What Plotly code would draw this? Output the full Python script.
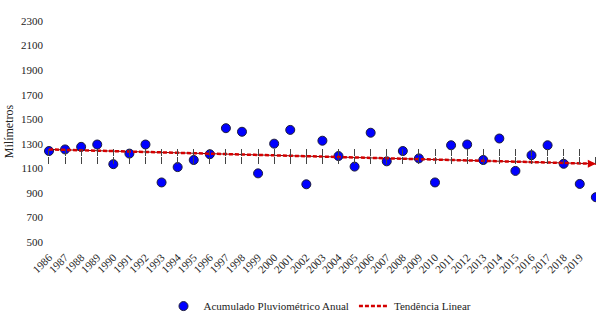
import plotly.graph_objects as go

years = list(range(1986, 2021))
rain_mm = [1241, 1254, 1275, 1294, 1134, 1220, 1294, 985, 1110, 1168,
           1215, 1427, 1398, 1059, 1301, 1413, 970, 1325, 1200, 1114,
           1390, 1157, 1241, 1181, 985, 1288, 1294, 1168, 1343, 1079,
           1207, 1288, 1137, 973, 865]
trend_years = [1986, 2020]
trend_mm = [1254, 1137]
y_ticks = [500, 700, 900, 1100, 1300, 1500, 1700, 1900, 2100, 2300]
y_title = "Milímetros"
name_points = "Acumulado Pluviométrico Anual"
name_trend = "Tendência Linear"

FONT = "Times New Roman, Liberation Serif, serif"
TXT = "#222"
y_min, y_max = 500, 2300
cross_val = 1198
x_range = [1985.69, 2020.01]

fig = go.Figure()

# thin dark underline for the trend (shadow look)
fig.add_trace(go.Scatter(
    x=trend_years, y=trend_mm, mode="lines",
    line=dict(color="#7a0000", width=1), showlegend=False, hoverinfo="skip"))

fig.add_trace(go.Scatter(
    x=years, y=rain_mm, mode="markers", name=name_points,
    marker=dict(color="#0000ff", size=9, line=dict(color="#1c1c3c", width=1))))

fig.add_trace(go.Scatter(
    x=trend_years, y=trend_mm, mode="lines", name=name_trend,
    line=dict(color="#d40000", width=2.5, dash="4px,2px")))

# helper traces for tick-only crossing axes
fig.add_trace(go.Scatter(x=[], y=[], xaxis="x2", showlegend=False))
fig.add_trace(go.Scatter(x=[], y=[], xaxis="x3", showlegend=False))

pos = (cross_val - y_min) / (y_max - y_min)

fig.update_layout(
    width=596, height=321,
    margin=dict(l=44, r=0, t=21, b=70),
    paper_bgcolor="white", plot_bgcolor="white",
    font=dict(family=FONT, size=11, color=TXT),
    xaxis=dict(range=x_range, tickmode="array", tickvals=years,
               ticktext=[str(y) for y in years], tickangle=-45,
               showgrid=False, zeroline=False, showline=False, ticks="",
               ticklabelstandoff=6,
               tickfont=dict(family=FONT, size=11, color=TXT)),
    xaxis2=dict(range=x_range, overlaying="x", anchor="free", position=pos,
                tickmode="array", tickvals=years, showticklabels=False,
                ticks="outside", ticklen=7, tickcolor="#444", tickwidth=1,
                showgrid=False, zeroline=False, showline=False),
    xaxis3=dict(range=x_range, overlaying="x", anchor="free", position=pos,
                tickmode="array", tickvals=years, showticklabels=False,
                ticks="inside", ticklen=7, tickcolor="#444", tickwidth=1,
                showgrid=False, zeroline=False, showline=False),
    yaxis=dict(range=[y_min, y_max], tickmode="array", tickvals=y_ticks,
               showgrid=False, zeroline=False, showline=False, ticks="",
               title=dict(text=y_title, standoff=4,
                          font=dict(family=FONT, size=12, color=TXT)),
               tickfont=dict(family=FONT, size=11, color=TXT)),
    legend=dict(orientation="h", x=0.5, xanchor="center", y=-0.29,
                yanchor="middle", font=dict(family=FONT, size=11, color=TXT),
                itemwidth=30, bgcolor="rgba(0,0,0,0)"),
    showlegend=True,
)

fig.add_annotation(
    x=trend_years[-1], y=trend_mm[-1], ax=-6, ay=0, xref="x", yref="y",
    showarrow=True, arrowhead=2, arrowsize=0.8, arrowwidth=2,
    arrowcolor="#d40000", text="")

fig.write_html("out.html")
